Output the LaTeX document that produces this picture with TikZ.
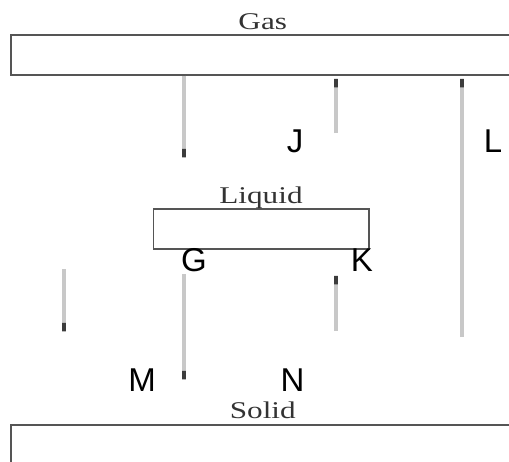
\documentclass[tikz,border=0pt]{standalone}
\usepackage{fontspec}
\newfontfamily\phasefont{Liberation Serif}
\newfontfamily\ptfont{Liberation Sans}
\usetikzlibrary{arrows.meta,calc}
\definecolor{phline}{HTML}{555555}
\definecolor{trgrey}{HTML}{C8C8C8}
\definecolor{trtip}{HTML}{3C3C3C}
\newcommand{\phasename}[1]{\scalebox{1.3}[1]{#1}}
\tikzset{
  x=1pt,y=1pt,
  phase/.style={draw=phline,line width=1.5pt,rectangle,inner sep=0pt,
                minimum height=40pt,anchor=north west},
  phaselbl/.style={font=\phasefont\fontsize{24}{26}\selectfont,text=black!80,
                   anchor=base,inner sep=0pt},
  ptlbl/.style={font=\ptfont\fontsize{33}{36}\selectfont,anchor=base,inner sep=0pt},
  trans/.style={-{Rectangle[length=12pt,width=3.5pt,color=trtip]},line width=3.5pt,
                draw=trgrey},
}
\begin{document}
\begin{tikzpicture}
  \clip (0,0) rectangle (509,-461);

  % phase boxes
  \node[phase,minimum width=504pt] (gas) at (10,-34) {};
  \node[phase,minimum width=215.5pt] (liquid) at (152.5,-208) {};
  \node[phase,minimum width=504pt] (solid) at (10,-424) {};
  \node[phaselbl] (gaslbl) at ([yshift=5pt]gas.north) {\phasename{Gas}};
  \node[phaselbl] (liquidlbl) at ([yshift=5pt]liquid.north) {\phasename{Liquid}};
  \node[phaselbl] (solidlbl) at ([yshift=6pt]solid.north) {\phasename{Solid}};

  % free ends of the transitions
  \coordinate (d1) at (184,-159);
  \coordinate (j1) at (336,-133);
  \coordinate (j2) at (336,-77);
  \coordinate (l1) at (462,-337);
  \coordinate (l2) at (462,-77);
  \coordinate (m1) at (64,-269);
  \coordinate (m2) at (64,-333);
  \coordinate (g1) at (184,-274);
  \coordinate (g2) at (184,-381);
  \coordinate (k1) at (336,-331);
  \coordinate (k2) at (336,-274);

  % transitions
  \draw[trans] (gas.south -| d1) -- (d1);
  \draw[trans] (j1) -- (j2);
  \draw[trans] (l1) -- (l2);
  \draw[trans] (m1) -- (m2);
  \draw[trans] (g1) -- (g2);
  \draw[trans] (k1) -- (k2);

  % letters
  \node[ptlbl] (J) at (295,-152) {J};
  \node[ptlbl] (L) at (493,-152) {L};
  \node[ptlbl] (G) at (194,-271) {G};
  \node[ptlbl] (K) at (362,-271) {K};
  \node[ptlbl] (M) at (142,-391) {M};
  \node[ptlbl] (N) at (292.5,-391) {N};
\end{tikzpicture}
\end{document}
